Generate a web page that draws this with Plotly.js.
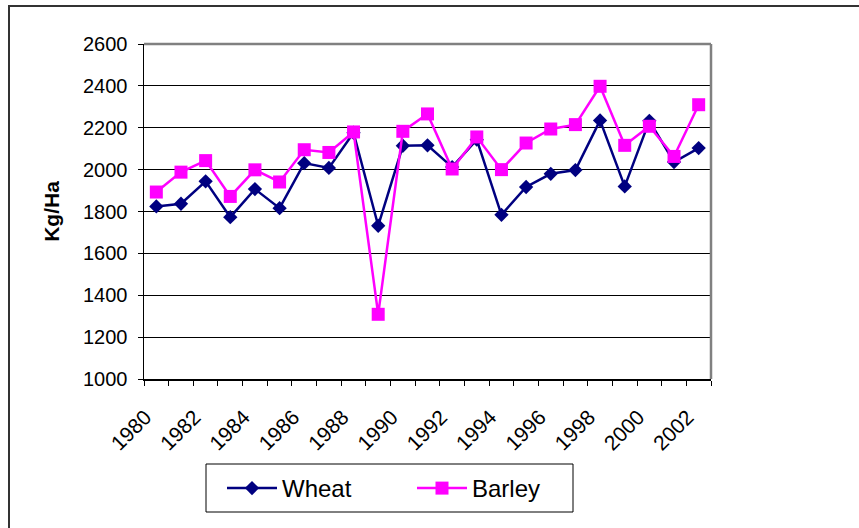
<!DOCTYPE html>
<html>
<head>
<meta charset="utf-8">
<script src="https://cdn.plot.ly/plotly-3.0.1.min.js"></script>
<style>
html,body{margin:0;padding:0;background:#fff;}
#chart{width:859px;height:528px;}
</style>
</head>
<body>
<div id="chart"></div>
<script>
var years = ["1980","1981","1982","1983","1984","1985","1986","1987","1988","1989","1990","1991","1992","1993","1994","1995","1996","1997","1998","1999","2000","2001","2002"];
var yearLabels = ["1980","","1982","","1984","","1986","","1988","","1990","","1992","","1994","","1996","","1998","","2000","","2002"];
var wheat  = [1824,1837,1944,1773,1907,1816,2031,2008,2176,1732,2114,2116,2012,2143,1784,1917,1980,1998,2235,1920,2233,2036,2103];
var barley = [1893,1988,2043,1872,1999,1941,2095,2082,2180,1309,2183,2266,2003,2156,2000,2127,2194,2215,2398,2116,2207,2063,2310];
var yTicks = [1000,1200,1400,1600,1800,2000,2200,2400,2600];

var FONT = "Liberation Sans, Arial, sans-serif";

var traces = [
  {x: years, y: wheat, name: "Wheat", type: "scatter", mode: "lines+markers",
   line: {color: "#000080", width: 2.5},
   marker: {symbol: "diamond", size: 11, color: "#000080"}},
  {x: years, y: barley, name: "Barley", type: "scatter", mode: "lines+markers",
   line: {color: "#FF00FF", width: 2.5},
   marker: {symbol: "square", size: 13, color: "#FF00FF"}}
];

function px(x){ return (x - 144) / 567; }
function py(y){ return (379 - y) / 335; }

var layout = {
  width: 859, height: 528,
  margin: {l: 144, r: 148, t: 44, b: 149},
  paper_bgcolor: "#fff", plot_bgcolor: "#fff",
  font: {family: FONT, color: "#000", size: 20},
  showlegend: true,
  legend: {
    orientation: "h", x: px(222), y: py(466), xanchor: "left", yanchor: "top",
    font: {family: FONT, size: 24, color: "#000"},
    bgcolor: "rgba(0,0,0,0)", borderwidth: 0,
    itemwidth: 50, entrywidth: 125, entrywidthmode: "pixels",
    traceorder: "normal"
  },
  xaxis: {
    type: "category", range: [-0.5, 22.5], tickmode: "array", tickvals: years, ticktext: yearLabels,
    tickson: "boundaries", ticks: "outside", ticklen: 5, tickcolor: "#000", tickwidth: 1,
    tickangle: -45, tickfont: {family: FONT, size: 21, color: "#000"},
    ticklabelstandoff: 16, ticklabelshift: -11,
    showline: true, linecolor: "#000", linewidth: 1.5,
    showgrid: false, zeroline: false, fixedrange: true
  },
  yaxis: {
    range: [1000, 2600], tickmode: "array", tickvals: yTicks,
    ticks: "outside", ticklen: 5, tickcolor: "#000", tickwidth: 1,
    ticklabelstandoff: 6,
    tickfont: {family: FONT, size: 20, color: "#000"},
    showline: true, linecolor: "#000", linewidth: 1.5,
    showgrid: true, gridcolor: "#000", gridwidth: 1, zeroline: false,
    title: {text: "<b>Kg/Ha</b>", font: {family: FONT, size: 21, color: "#000"}, standoff: 17},
    fixedrange: true
  },
  shapes: [
    {type: "rect", xref: "paper", yref: "paper", x0: px(9), y0: py(6), x1: 2, y1: -2,
     line: {color: "#333", width: 2}, fillcolor: "rgba(0,0,0,0)", layer: "below"},
    {type: "line", xref: "paper", yref: "paper", x0: 0, x1: 1, y0: 1, y1: 1,
     line: {color: "#808080", width: 2.5}, layer: "above"},
    {type: "line", xref: "paper", yref: "paper", x0: 1, x1: 1, y0: 0, y1: 1,
     line: {color: "#808080", width: 2.5}, layer: "above"},
    {type: "rect", xref: "paper", yref: "paper", x0: px(206), y0: py(464), x1: px(573), y1: py(512),
     line: {color: "#000", width: 1}, fillcolor: "rgba(0,0,0,0)", layer: "below"}
  ]
};

Plotly.newPlot("chart", traces, layout, {displayModeBar: false, staticPlot: true});
</script>
</body>
</html>
